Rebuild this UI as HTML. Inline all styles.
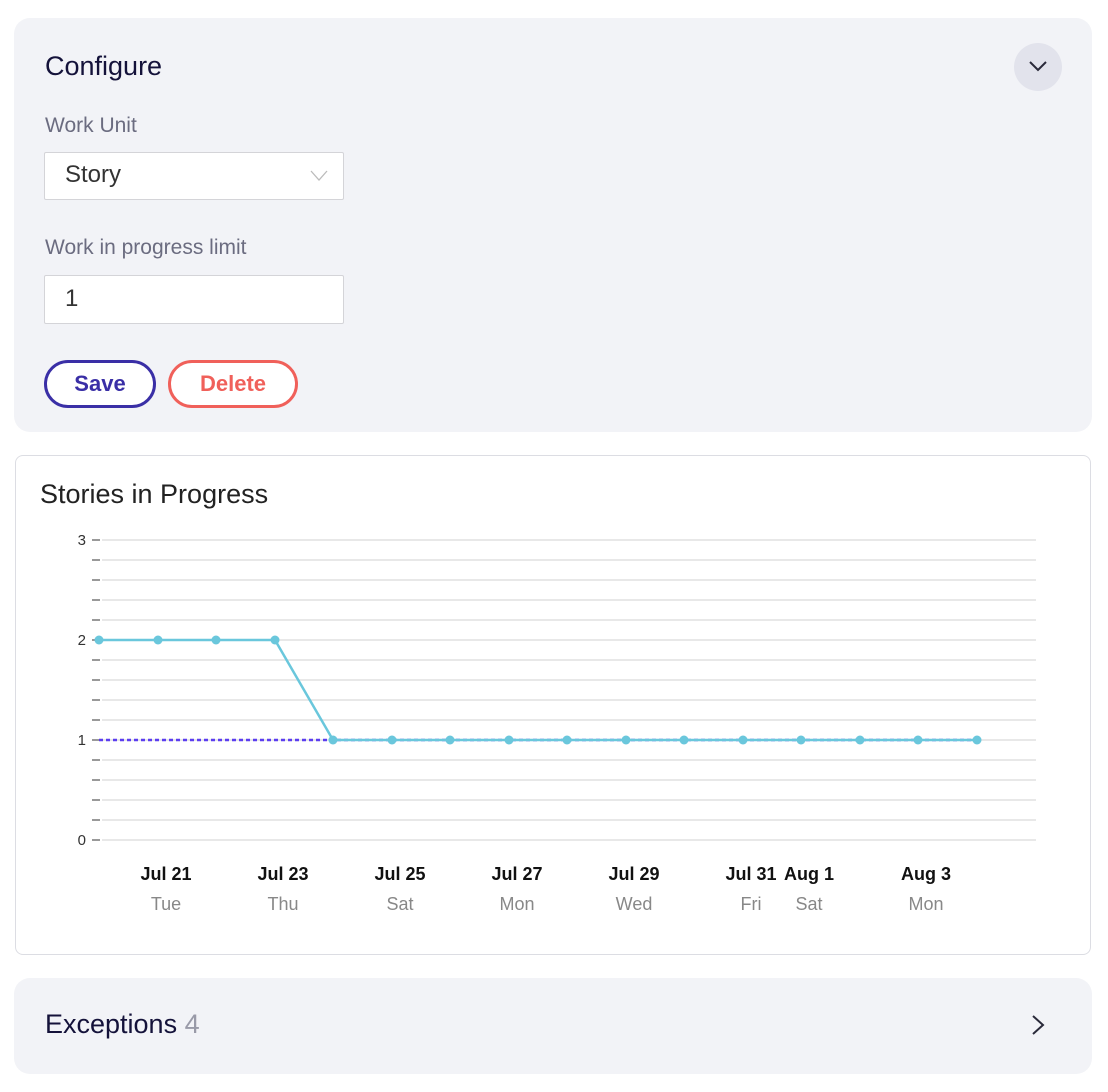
<!DOCTYPE html>
<html><head><style>
body{margin:0;width:1108px;height:1092px;background:#fff;font-family:"Liberation Sans",sans-serif;position:relative;overflow:hidden}
.p{position:absolute}
.card{position:absolute;left:14px;width:1078px;background:#f2f3f7;border-radius:16px}
</style></head><body>
<div class="card" style="top:18px;height:414px"></div>
<div class="p" style="left:45px;top:51px;font-size:27px;color:#14123a">Configure</div>
<div class="p" style="left:1014px;top:43px;width:48px;height:48px;border-radius:50%;background:#e2e3ec"></div>
<svg class="p" style="left:1028px;top:58px" width="20" height="16"><polyline points="2,4 10,12 18,4" fill="none" stroke="#2a2a3a" stroke-width="2"/></svg>
<div class="p" style="left:45px;top:114px;font-size:21px;color:#6b6c80">Work Unit</div>
<div class="p" style="left:44px;top:152px;width:298px;height:46px;background:#fff;border:1px solid #d4d4d8;border-radius:2px"></div>
<div class="p" style="left:65px;top:161px;font-size:24px;color:#333">Story</div>
<svg class="p" style="left:310px;top:170px" width="18" height="12"><polyline points="1,1 9,10 17,1" fill="none" stroke="#bbb" stroke-width="1.3"/></svg>
<div class="p" style="left:45px;top:236px;font-size:21px;color:#6b6c80">Work in progress limit</div>
<div class="p" style="left:44px;top:275px;width:298px;height:47px;background:#fff;border:1px solid #d4d4d8;border-radius:2px"></div>
<div class="p" style="left:65px;top:285px;font-size:24px;color:#333">1</div>
<div class="p" style="left:44px;top:360px;border:3px solid #3a2fa6;border-radius:24px;box-sizing:border-box;width:112px;height:48px;background:#fff;text-align:center;line-height:42px;font-weight:bold;font-size:22px;color:#3a2fa6">Save</div>
<div class="p" style="left:168px;top:360px;width:130px;height:48px;border:3px solid #f0605a;border-radius:24px;box-sizing:border-box;background:#fff;text-align:center;line-height:42px;font-weight:bold;font-size:22px;color:#f0605a">Delete</div>

<div class="p" style="left:15px;top:455px;width:1074px;height:498px;border:1px solid #dcdde3;border-radius:8px;background:#fff"></div>
<div class="p" style="left:40px;top:479px;font-size:27px;color:#222">Stories in Progress</div>
<svg class="p" style="left:0;top:0" width="1108" height="960">
<g stroke="#e0e0e0" stroke-width="1.5">
<line x1="102" x2="1036" y1="540" y2="540"/><line x1="102" x2="1036" y1="560" y2="560"/><line x1="102" x2="1036" y1="580" y2="580"/><line x1="102" x2="1036" y1="600" y2="600"/><line x1="102" x2="1036" y1="620" y2="620"/><line x1="102" x2="1036" y1="640" y2="640"/><line x1="102" x2="1036" y1="660" y2="660"/><line x1="102" x2="1036" y1="680" y2="680"/><line x1="102" x2="1036" y1="700" y2="700"/><line x1="102" x2="1036" y1="720" y2="720"/><line x1="102" x2="1036" y1="740" y2="740"/><line x1="102" x2="1036" y1="760" y2="760"/><line x1="102" x2="1036" y1="780" y2="780"/><line x1="102" x2="1036" y1="800" y2="800"/><line x1="102" x2="1036" y1="820" y2="820"/><line x1="102" x2="1036" y1="840" y2="840"/>
</g>
<g stroke="#777" stroke-width="1.5">
<line x1="92" x2="100" y1="540" y2="540"/><line x1="92" x2="100" y1="560" y2="560"/><line x1="92" x2="100" y1="580" y2="580"/><line x1="92" x2="100" y1="600" y2="600"/><line x1="92" x2="100" y1="620" y2="620"/><line x1="92" x2="100" y1="640" y2="640"/><line x1="92" x2="100" y1="660" y2="660"/><line x1="92" x2="100" y1="680" y2="680"/><line x1="92" x2="100" y1="700" y2="700"/><line x1="92" x2="100" y1="720" y2="720"/><line x1="92" x2="100" y1="740" y2="740"/><line x1="92" x2="100" y1="760" y2="760"/><line x1="92" x2="100" y1="780" y2="780"/><line x1="92" x2="100" y1="800" y2="800"/><line x1="92" x2="100" y1="820" y2="820"/><line x1="92" x2="100" y1="840" y2="840"/>
</g>
<g font-size="15" fill="#333" text-anchor="end" font-family="Liberation Sans">
<text x="86" y="545">3</text><text x="86" y="645">2</text><text x="86" y="745">1</text><text x="86" y="845">0</text>
</g>
<line x1="99" x2="977" y1="740" y2="740" stroke="#5b3df0" stroke-width="2.5" stroke-dasharray="4,3"/>
<polyline points="99,640 158,640 216,640 275,640 333,740 977,740" fill="none" stroke="#6ac7dc" stroke-width="2.5"/>
<g fill="#6ac7dc">
<circle cx="99" cy="640" r="4.5"/><circle cx="158" cy="640" r="4.5"/><circle cx="216" cy="640" r="4.5"/><circle cx="275" cy="640" r="4.5"/><circle cx="333" cy="740" r="4.5"/><circle cx="392" cy="740" r="4.5"/><circle cx="450" cy="740" r="4.5"/><circle cx="509" cy="740" r="4.5"/><circle cx="567" cy="740" r="4.5"/><circle cx="626" cy="740" r="4.5"/><circle cx="684" cy="740" r="4.5"/><circle cx="743" cy="740" r="4.5"/><circle cx="801" cy="740" r="4.5"/><circle cx="860" cy="740" r="4.5"/><circle cx="918" cy="740" r="4.5"/><circle cx="977" cy="740" r="4.5"/>
</g>
<g font-size="18" font-weight="bold" fill="#111" text-anchor="middle" font-family="Liberation Sans">
<text x="166" y="880">Jul 21</text><text x="283" y="880">Jul 23</text><text x="400" y="880">Jul 25</text><text x="517" y="880">Jul 27</text><text x="634" y="880">Jul 29</text><text x="751" y="880">Jul 31</text><text x="809" y="880">Aug 1</text><text x="926" y="880">Aug 3</text>
</g>
<g font-size="18" fill="#888" text-anchor="middle" font-family="Liberation Sans">
<text x="166" y="910">Tue</text><text x="283" y="910">Thu</text><text x="400" y="910">Sat</text><text x="517" y="910">Mon</text><text x="634" y="910">Wed</text><text x="751" y="910">Fri</text><text x="809" y="910">Sat</text><text x="926" y="910">Mon</text>
</g>
</svg>

<div class="card" style="top:978px;height:96px"></div>
<div class="p" style="left:45px;top:1009px;font-size:27px;color:#14123a">Exceptions <span style="color:#999aa8">4</span></div>
<svg class="p" style="left:1030px;top:1014px" width="16" height="22"><polyline points="3,2 13,11 3,20" fill="none" stroke="#2a2a3a" stroke-width="2"/></svg>
</body></html>
